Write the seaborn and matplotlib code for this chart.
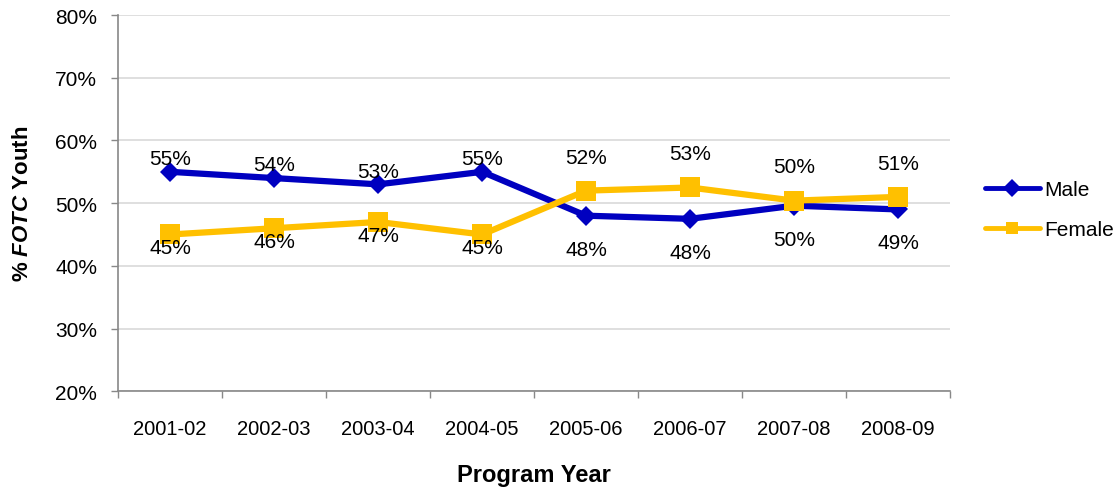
import numpy as np
import pandas as pd
import matplotlib
matplotlib.use("Agg")
import matplotlib.pyplot as plt
import seaborn as sns

years = ["2001-02", "2002-03", "2003-04", "2004-05", "2005-06", "2006-07", "2007-08", "2008-09"]
male = [55.0, 54.0, 53.0, 55.0, 48.0, 47.5, 49.6, 49.0]
female = [45.0, 46.0, 47.0, 45.0, 52.0, 52.5, 50.4, 51.0]
series_names = ["Male", "Female"]

df = pd.DataFrame({
    "year": years * 2,
    "pos": list(range(len(years))) * 2,
    "value": male + female,
    "series": ["Male"] * len(years) + ["Female"] * len(years),
})

sns.set_theme(style="white")
plt.rcParams["font.family"] = ["Liberation Sans", "DejaVu Sans"]
plt.rcParams["mathtext.fontset"] = "custom"
plt.rcParams["mathtext.bfit"] = "Liberation Sans:italic:bold"
plt.rcParams["mathtext.rm"] = "Liberation Sans"
plt.rcParams["text.color"] = "black"
plt.rcParams["axes.labelcolor"] = "black"

colors = {"Male": "#0000C0", "Female": "#FFC000"}
markers = {"Male": "D", "Female": "s"}
msizes = {"Male": 10, "Female": 14}

fig = plt.figure(figsize=(11.15, 4.89), dpi=100)
ax = fig.add_axes([0.106, 0.198, 0.746, 0.769])

for name in series_names:
    sub = df[df.series == name]
    sns.lineplot(data=sub, x="pos", y="value", ax=ax, color=colors[name],
                 marker=markers[name], markersize=msizes[name], linewidth=4.5,
                 markeredgewidth=0, label=name, zorder=3)

ax.set_ylim(20, 80)
ax.set_xlim(-0.5, len(years) - 0.5)
ax.set_yticks(np.arange(20, 81, 10))
ax.set_yticklabels([f"{int(v)}%" for v in np.arange(20, 81, 10)], fontsize=15)
ax.set_xticks(np.arange(-0.5, len(years), 1.0))
ax.set_xticklabels([])
ax.set_xticks(np.arange(len(years)), minor=True)
ax.set_xticklabels(years, minor=True, fontsize=14.5)
ax.tick_params(axis="x", which="major", length=5, color="#888888", width=1, direction="out", bottom=True)
ax.tick_params(axis="x", which="minor", length=0, pad=20, labelcolor="black")
ax.tick_params(axis="y", which="major", length=5, color="#888888", width=1, direction="out", left=True, pad=10,
               labelcolor="black")
ax.grid(axis="y", color="#d9d9d9", linewidth=1.2, zorder=0)
ax.set_axisbelow(True)
for s in ["top", "right"]:
    ax.spines[s].set_visible(False)
for s in ["left", "bottom"]:
    ax.spines[s].set_color("#888888")
    ax.spines[s].set_linewidth(1.2)

ax.set_xlabel("Program Year", fontsize=17, fontweight="bold", labelpad=18, color="black")
ax.set_ylabel(r"% $\mathbfit{FOTC}$ Youth", fontsize=16, fontweight="bold", labelpad=16, color="black")

def half_up(v):
    return int(np.floor(v + 0.5))

near = [9.5, 9.5, 9.5, 9.5, 24, 24.5, 24.5, 24]
for i, (m, f) in enumerate(zip(male, female)):
    m_up = m >= f
    off = near[i]
    ax.annotate(f"{half_up(m)}%", (i, m), xytext=(0, off if m_up else -off),
                textcoords="offset points", ha="center", va="center", fontsize=15, color="black")
    ax.annotate(f"{half_up(f)}%", (i, f), xytext=(0, -off if m_up else off),
                textcoords="offset points", ha="center", va="center", fontsize=15, color="black")

leg = ax.legend(loc="center left", bbox_to_anchor=(1.02, 0.483), frameon=False,
                fontsize=15, handlelength=2.6, handletextpad=0.25, labelspacing=1.0)
for t in leg.get_texts():
    t.set_color("black")
for h in leg.legend_handles:
    h.set_linewidth(3.5)
    h.set_markersize(9)

fig.savefig("out.png", dpi=100)
